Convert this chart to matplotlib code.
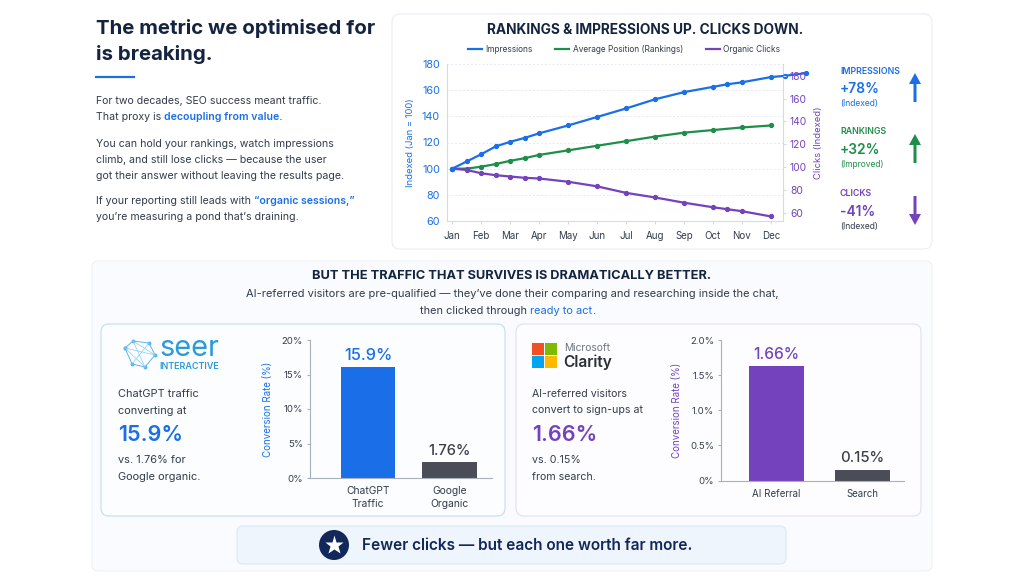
import matplotlib
matplotlib.use("Agg")
import matplotlib.pyplot as plt
from matplotlib.lines import Line2D
from matplotlib.patches import FancyBboxPatch, Rectangle, Circle, FancyArrow

plt.rcParams['font.family'] = ['Inter', 'DejaVu Sans']

months = ["Jan", "Feb", "Mar", "Apr", "May", "Jun", "Jul", "Aug", "Sep", "Oct", "Nov", "Dec"]
imp_x = [0, 0.5, 1, 1.5, 2, 2.5, 3, 4, 5, 6, 7, 8, 9, 9.5, 10, 11, 11.5, 12.2]
imp_y = [100, 105.5, 111, 117, 120.5, 123.5, 127, 133, 139.5, 146, 153, 158.5, 162.5, 164.5, 166, 170, 171, 173]
rank_x = [0, 0.5, 1, 1.5, 2, 2.5, 3, 4, 5, 6, 7, 8, 9, 10, 11]
rank_y = [100, 100, 101.5, 103.5, 106, 108, 110.5, 114, 117.5, 121, 124.5, 127.5, 129.5, 131.5, 133]
click_x = [0, 0.5, 1, 1.5, 2, 2.5, 3, 4, 5, 6, 7, 8, 9, 9.5, 10, 11]
click_y = [100, 99, 96.5, 95, 94, 93, 92.5, 90, 86.5, 81.5, 78, 74, 70.5, 69, 67.5, 63.5]
left_ticks = [60, 80, 100, 120, 140, 160, 180]
right_ticks = [60, 80, 100, 120, 140, 160, 180]

seer_cats = ["ChatGPT\nTraffic", "Google\nOrganic"]
seer_vals = [16.1, 2.25]
seer_labels = ["15.9%", "1.76%"]
clarity_cats = ["AI Referral", "Search"]
clarity_vals = [1.63, 0.155]
clarity_labels = ["1.66%", "0.15%"]

BLUE = "#1a6fe8"
GREEN = "#1e8e4a"
PURPLE = "#7442bd"
NAVY = "#14233f"
BODY = "#333c4b"
GREY = "#4a4d58"
W, H = 1024, 576

fig = plt.figure(figsize=(W / 100, H / 100), dpi=100, facecolor="white")
ov = fig.add_axes([0, 0, 1, 1])
ov.set_xlim(0, W)
ov.set_ylim(H, 0)
ov.axis("off")


def px_axes(x0, y0, x1, y1):
    # pixel box, y measured from the top
    return fig.add_axes([x0 / W, 1 - y1 / H, (x1 - x0) / W, (y1 - y0) / H], facecolor="none")


def card(x0, y0, x1, y1, fc, ec, r=7, z=1):
    ov.add_patch(FancyBboxPatch((x0 + r, y0 + r), x1 - x0 - 2 * r, y1 - y0 - 2 * r,
                                boxstyle=f"round,pad={r},rounding_size={r}",
                                fc=fc, ec=ec, lw=0.8, zorder=z))


def txt(x, y, s, size, color=BODY, weight="normal", ha="left", **kw):
    return ov.text(x, y, s, fontsize=size * 0.72, color=color, fontweight=weight,
                   ha=ha, va="center", **kw)


def rich(x, y, parts, size):
    # runs of different colour on one line
    r = fig.canvas.get_renderer()
    for s, c, w in parts:
        t = txt(x, y, s, size, c, w)
        x += t.get_window_extent(r).width


card(392, 14, 932, 249, "white", "#e9edf3", 8)
card(92, 261, 932, 571, "#f9fbfe", "#eef1f6", 6)
card(101, 324, 505, 516, "#fbfdff", "#c4dcf6", 8, 2)
card(516, 324, 921, 516, "#fdfdff", "#e4ddf6", 8, 2)
card(237, 526, 786, 564, "#eef5fd", "#d9e8fa", 6, 2)

# left text column
txt(96, 28, "The metric we optimised for", 20.4, NAVY, "bold")
txt(96, 54, "is breaking.", 20.4, NAVY, "bold")
ov.plot([96, 134], [76.5, 76.5], color=BLUE, lw=1.6)
S = 10.55
txt(96, 101.5, "For two decades, SEO success meant traffic.", S)
rich(96, 117.5, [("That proxy is ", BODY, "normal"), ("decoupling from value.", BLUE, "semibold")], S)
txt(96, 144, "You can hold your rankings, watch impressions", S)
txt(96, 160, "climb, and still lose clicks — because the user", S)
txt(96, 176, "got their answer without leaving the results page.", S)
rich(96, 201.5, [("If your reporting still leads with ", BODY, "normal"),
                 ("“organic sessions,”", BLUE, "semibold")], S)
txt(96, 217.5, "you’re measuring a pond that’s draining.", S)

# line chart
txt(645, 30, "RANKINGS & IMPRESSIONS UP. CLICKS DOWN.", 13.7, NAVY, "bold", ha="center")
ax = px_axes(447, 64, 783, 221)
ax.set_xlim(-0.18, 11.42)
ax.set_ylim(60, 180)
ax.plot(imp_x, imp_y, color=BLUE, lw=1.6, marker="o", ms=2.8, clip_on=False, zorder=5)
ax.plot(rank_x, rank_y, color=GREEN, lw=1.6, marker="o", ms=2.8, clip_on=False, zorder=4)
ax.plot(click_x, click_y, color=PURPLE, lw=1.6, marker="o", ms=2.8, clip_on=False, zorder=4)
ax.set_xticks(range(12), months)
ax.set_yticks(left_ticks)
ax.tick_params(axis="x", labelsize=7, labelcolor=BODY, color="#d5dbe6", length=2, pad=5)
ax.tick_params(axis="y", labelsize=7.8, labelcolor=BLUE, length=0, pad=5)
ax.grid(axis="y", color="#e6e9ef", lw=0.7, ls=(0, (2, 2)))
ax.set_axisbelow(True)
ax.set_ylabel("Indexed (Jan = 100)", color=BLUE, fontsize=6.8, labelpad=5)
ax.spines["top"].set_visible(False)
for sp in ("left", "bottom", "right"):
    ax.spines[sp].set_color("#d5dbe6")

ax2 = ax.twinx()
ax2.set_ylim(52.6, 190.3)
ax2.set_yticks(right_ticks)
ax2.tick_params(axis="y", labelsize=7.4, labelcolor=PURPLE, color="#d5dbe6", length=2, pad=3)
ax2.set_ylabel("Clicks (Indexed)", color=PURPLE, fontsize=6.8, labelpad=5)
for sp in ax2.spines.values():
    sp.set_visible(False)
handles = [Line2D([], [], color=BLUE, lw=1.6), Line2D([], [], color=GREEN, lw=1.6),
           Line2D([], [], color=PURPLE, lw=1.6)]
ax.legend(handles, ["Impressions", "Average Position (Rankings)", "Organic Clicks"],
          loc="center", bbox_to_anchor=(0.527, 1.095), ncol=3, frameon=False, fontsize=6,
          handlelength=1.7, columnspacing=2.7, handletextpad=0.4, labelcolor=BODY)

# callouts
callouts = [("IMPRESSIONS", "+78%", "(Indexed)", BLUE, BLUE, 71, True),
            ("RANKINGS", "+32%", "(Improved)", GREEN, GREEN, 132, True),
            ("CLICKS", "-41%", "(Indexed)", PURPLE, BODY, 194, False)]
for head, big, sub, col, subcol, y, up in callouts:
    txt(840, y, head, 8.8, col, "semibold")
    txt(840, y + 18, big, 13.8, col, "semibold")
    txt(840, y + 32.5, sub, 8.5, subcol)
    if up:
        ov.add_patch(FancyArrow(915, y + 31, 0, -29, width=3, head_width=12, head_length=11,
                                length_includes_head=True, color=col, lw=0))
    else:
        ov.add_patch(FancyArrow(915, y + 2, 0, 29, width=3, head_width=12, head_length=11,
                                length_includes_head=True, color=col, lw=0))

# lower panel heading
txt(512, 276, "BUT THE TRAFFIC THAT SURVIVES IS DRAMATICALLY BETTER.", 12.8, NAVY, "bold", ha="center")
txt(512, 294, "AI-referred visitors are pre-qualified — they’ve done their comparing and researching inside the chat,",
    11.1, BODY, ha="center")
rich(420, 311, [("then clicked through ", BODY, "normal"), ("ready to act", BLUE, "normal"), (".", BODY, "normal")], 11)

# seer logo
net = [(125, 348), (133, 341), (149, 343), (155, 355), (145, 367), (132, 364), (125, 348)]
ov.plot(*zip(*net), color="#5db7e6", lw=0.7, marker="o", ms=1.8, zorder=3)
for a, b in [(0, 3), (1, 4), (2, 5), (0, 4), (1, 3)]:
    ov.plot([net[a][0], net[b][0]], [net[a][1], net[b][1]], color="#8ccdf0", lw=0.5, zorder=3)
txt(159, 349, "seer", 29, "#2c9ad6", zorder=3)
txt(159, 366.5, "INTERACTIVE", 9, "#2c9ad6", "semibold", zorder=3)

txt(118, 394, "ChatGPT traffic", 11, BODY, zorder=3)
txt(118, 410.5, "converting at", 11, BODY, zorder=3)
txt(118, 435, "15.9%", 21.5, BLUE, "semibold", zorder=3)
txt(118, 460, "vs. 1.76% for", 11, BODY, zorder=3)
txt(118, 476.5, "Google organic.", 11, BODY, zorder=3)

# clarity logo
for x, y, c in [(532, 343, "#f25022"), (545, 343, "#7fba00"), (532, 356, "#00a4ef"), (545, 356, "#ffb900")]:
    ov.add_patch(Rectangle((x, y), 12, 12, fc=c, ec="none", zorder=3))
txt(564, 348, "Microsoft", 10.2, "#6d7480", zorder=3)
txt(563, 362.5, "Clarity", 15.5, "#2a2f38", "semibold", zorder=3)

txt(532, 394, "AI-referred visitors", 10.6, BODY, zorder=3)
txt(532, 410, "convert to sign-ups at", 10.6, BODY, zorder=3)
txt(532, 435, "1.66%", 21.5, PURPLE, "semibold", zorder=3)
txt(532, 460, "vs. 0.15%", 10.6, BODY, zorder=3)
txt(532, 476.5, "from search.", 10.6, BODY, zorder=3)


def bars(box, xlim, ymax, ticks, ticklabels, cats, vals, labels, col, width, sizes, catsize):
    a = px_axes(*box)
    a.bar(range(2), vals, width=width, color=[col, GREY])
    a.set_xlim(*xlim)
    a.set_ylim(0, ymax)
    a.set_xticks(range(2), cats, linespacing=1.35)
    a.set_yticks(ticks, ticklabels)
    a.tick_params(axis="x", length=0, labelsize=catsize, labelcolor=BODY, pad=6)
    a.tick_params(axis="y", length=2, labelsize=6.9, labelcolor=BODY, color="#aab0ba", pad=3)
    a.set_ylabel("Conversion Rate (%)", color=col, fontsize=7, labelpad=6)
    for sp in ("top", "right"):
        a.spines[sp].set_visible(False)
    for sp in ("left", "bottom"):
        a.spines[sp].set_color("#aab0ba")
    for i, v in enumerate(vals):
        a.annotate(labels[i], (i, v), xytext=(0, 3), textcoords="offset points", ha="center", va="bottom",
                   fontsize=sizes[i], color=col if i == 0 else "#3a3f49", fontweight="medium")
    return a


bars((310, 340, 492, 478), (-0.71, 1.52), 20, [0, 5, 10, 15, 20], ["0%", "5%", "10%", "15%", "20%"],
     seer_cats, seer_vals, seer_labels, BLUE, 0.67, [11.8, 10.6], 7.4)
bars((721, 340, 904, 480.5), (-0.65, 1.49), 2, [0, 0.5, 1, 1.5, 2], ["0%", "0.5%", "1.0%", "1.5%", "2.0%"],
     clarity_cats, clarity_vals, clarity_labels, PURPLE, 0.643, [11.2, 10.7], 7)

# banner
ov.add_patch(Circle((334, 545), 15, fc="#12275a", ec="none", zorder=3))
ov.plot([334], [544.5], marker="*", ms=14, color="white", mec="none", zorder=4)
txt(362, 545, "Fewer clicks — but each one worth far more.", 15.4, "#12275a", "semibold", zorder=3)

fig.savefig("out.png", dpi=100)
